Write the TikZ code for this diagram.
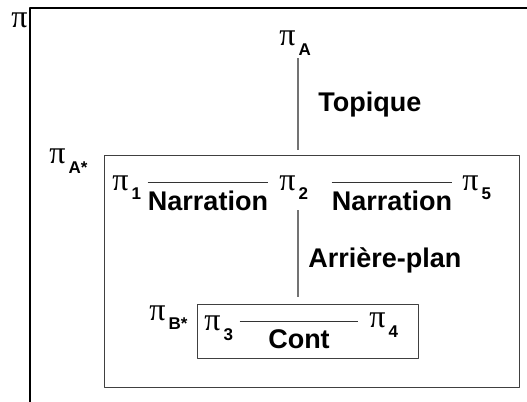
\documentclass[tikz,border=0pt]{standalone}
\usepackage{fontspec}
\setmainfont{Liberation Sans}
\newfontfamily\pifont{Liberation Serif}
\usetikzlibrary{calc}

\newcommand\pisub[1]{{\pifont\mdseries\fontsize{16}{18}\selectfont π}\hspace{1.5pt}\raisebox{-5pt}{\fontsize{8.5}{10}\selectfont\bfseries #1}}

\begin{document}
\begin{tikzpicture}[x=0.5pt,y=-0.5pt,line join=bevel,
  font=\fontsize{13.5}{16}\selectfont\bfseries,
  pinode/.style={anchor=base west,inner sep=0pt},
  rel/.style={anchor=base,inner xsep=0pt,inner ysep=4pt,text height=9.75pt,text depth=0pt},
  frame/.style={draw=black,line width=0.7pt},
  box/.style={draw=black!75,line width=0.7pt,anchor=north west,inner sep=0pt},
  edge/.style={draw=black!55,line width=0.55pt},
  bar/.style={draw=black!80,line width=0.5pt}]
\useasboundingbox (0,0) rectangle (527,402);
%%
  % Frame: pi
  \draw[frame] (30,402) -- (30,8) -- (527,8);
  \node[pinode] (pi) at (11,27) {{\pifont\mdseries\fontsize{16}{18}\selectfont π}};
  % Node: pi_A
  \node[pinode] (piA) at (279,45) {\pisub{A}};
  % Node: pi_A* (box)
  \node[box,minimum width=207.5pt,minimum height=116pt] (boxA) at (104,155) {};
  \node[pinode] (piAs) at (49,163) {\pisub{A*}};
  \coordinate (spine) at (298,0);
  % Edge: pi_A -> pi_A* (Topique)
  \draw[edge] ($(piA.base -| spine)+(0,13)$) -- ($(boxA.north -| spine)+(0,-5)$);
  \node[anchor=base west,inner sep=0pt] (top) at (318,111) {Topique};
  % Nodes: pi_1, pi_2, pi_5
  \node[pinode] (pi1) at (112,190) {\pisub{1}};
  \node[pinode] (pi2) at (279,190) {\pisub{2}};
  \node[pinode] (pi5) at (462,190) {\pisub{5}};
  % Edge: pi_1 -> pi_2 (Narration)
  \node[rel,minimum width=60pt] (nar1) at (208,210.5) {Narration};
  \draw[bar] (nar1.north west) -- (nar1.north east);
  % Edge: pi_2 -> pi_5 (Narration)
  \node[rel,minimum width=56.5pt] (nar2) at (392,210.5) {Narration};
  \draw[bar] (nar2.north west) -- (nar2.north east);
  % Node: pi_B* (box)
  \node[box,minimum width=110.5pt,minimum height=27pt] (boxB) at (197,304) {};
  \node[pinode] (piBs) at (149,320) {\pisub{B*}};
  % Edge: pi_2 -> pi_B* (Arriere-plan)
  \draw[edge] ($(pi2.base -| spine)+(0,20)$) -- ($(boxB.north -| spine)+(0,-7)$);
  \node[anchor=base west,inner sep=0pt] (arr) at (308,267) {Arrière-plan};
  % Nodes: pi_3, pi_4
  \node[pinode] (pi3) at (204,330) {\pisub{3}};
  \node[pinode] (pi4) at (369,328) {\pisub{4}};
  % Edge: pi_3 -> pi_4 (Cont)
  \node[rel,minimum width=59pt] (cont) at (299,349) {Cont};
  \draw[bar] (cont.north west) -- (cont.north east);
%
\end{tikzpicture}
\end{document}
